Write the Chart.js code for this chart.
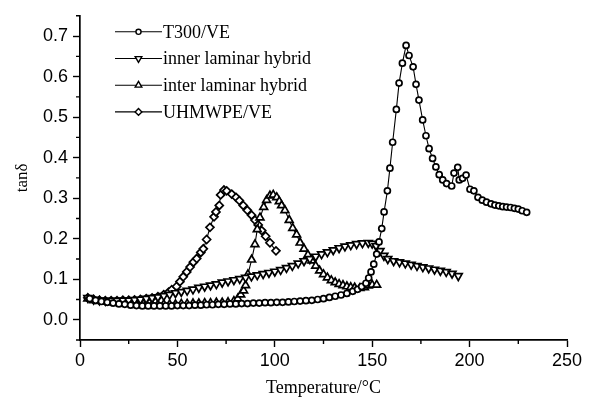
<!DOCTYPE html>
<html>
<head>
<meta charset="utf-8">
<script src="https://cdn.jsdelivr.net/npm/chart.js@4/dist/chart.umd.min.js"></script>
<style>
  html, body { margin: 0; padding: 0; background: #fff; }
  #wrap { width: 593px; height: 400px; }
</style>
</head>
<body>
<div id="wrap"><canvas id="chart" width="593" height="400"></canvas></div>
<script>
// tick positions
const xMajor = [0, 50, 100, 150, 200, 250];
const xMinor = [25, 75, 125, 175, 225];
const yMajor = [0, 0.1, 0.2, 0.3, 0.4, 0.5, 0.6, 0.7];
const yMinor = [-0.05, 0.05, 0.15, 0.25, 0.35, 0.45, 0.55, 0.65, 0.75];

const seriesNames = ['T300/VE', 'inner laminar hybrid', 'inter laminar hybrid', 'UHMWPE/VE'];

// T300/VE
const t300Temp = [5, 8, 11, 14, 17, 20, 23, 26, 29, 32, 35, 38, 41, 44, 47, 50, 53, 56, 59, 62, 65, 68, 71, 74, 77, 80,
  83, 86, 89, 92, 95, 98, 101, 104, 107, 110, 113, 116, 119, 122, 125, 128, 131, 134, 137, 140, 142.5, 144.6, 146.8,
  148.2, 149.4, 150.8, 152.3, 153.5, 154.9, 156.1, 157.8, 159.1, 160.5, 162.4, 163.8, 165.5, 167.4, 168.9, 171, 172.5,
  174, 175.9, 177.6, 179.2, 181, 182.7, 184.4, 186.2, 188.2, 190.8, 192, 193.9, 194.7, 196.4, 198.2, 200.2, 202.2,
  204.3, 206.5, 208.7, 211, 213, 215, 217, 219, 221, 223, 225, 227, 229.3];
const t300Tan = [0.052, 0.048, 0.045, 0.043, 0.041, 0.039, 0.038, 0.036, 0.035, 0.034, 0.034, 0.034, 0.034, 0.034, 0.034,
  0.035, 0.035, 0.035, 0.036, 0.036, 0.037, 0.037, 0.038, 0.038, 0.039, 0.039, 0.04, 0.04, 0.041, 0.041, 0.042, 0.042,
  0.043, 0.043, 0.044, 0.045, 0.046, 0.047, 0.048, 0.05, 0.052, 0.055, 0.058, 0.061, 0.065, 0.07, 0.075, 0.082, 0.09,
  0.103, 0.118, 0.137, 0.162, 0.192, 0.225, 0.266, 0.318, 0.374, 0.438, 0.519, 0.584, 0.633, 0.677, 0.652, 0.624, 0.581,
  0.542, 0.493, 0.454, 0.422, 0.398, 0.377, 0.358, 0.345, 0.336, 0.33, 0.362, 0.376, 0.345, 0.349, 0.357, 0.322, 0.318,
  0.302, 0.295, 0.29, 0.286, 0.283, 0.281, 0.279, 0.278, 0.277, 0.275, 0.273, 0.269, 0.265];

// inner laminar hybrid
const innerTemp = [4, 7, 10, 13, 16, 19, 22, 25, 28, 31, 34, 37, 40, 43, 46, 49, 52, 55, 58, 61, 64, 67, 70, 73, 76, 79,
  82, 85, 88, 91, 94, 97, 100, 103, 106, 109, 112, 115, 118, 121, 124, 127, 130, 133, 136, 139, 142, 145, 148, 150, 152,
  154, 156, 158, 161, 164, 167, 170, 173, 176, 179, 182, 185, 188, 191, 194.2];
const innerTan = [0.054, 0.05, 0.048, 0.047, 0.047, 0.047, 0.048, 0.048, 0.049, 0.05, 0.052, 0.054, 0.056, 0.059, 0.062,
  0.066, 0.069, 0.072, 0.075, 0.079, 0.082, 0.085, 0.088, 0.092, 0.095, 0.098, 0.101, 0.104, 0.107, 0.11, 0.113, 0.116,
  0.119, 0.123, 0.128, 0.133, 0.139, 0.145, 0.15, 0.156, 0.162, 0.167, 0.172, 0.177, 0.181, 0.184, 0.187, 0.189, 0.19,
  0.188, 0.182, 0.17, 0.158, 0.15, 0.145, 0.142, 0.139, 0.136, 0.133, 0.13, 0.127, 0.124, 0.121, 0.118, 0.114, 0.108];

// inter laminar hybrid
const interTemp = [4, 7, 10, 13, 16, 19, 22, 25, 28, 31, 34, 37, 40, 43, 46, 49, 52, 55, 58, 61, 64, 67, 70, 73, 76, 79,
  81, 82.5, 84, 85, 86.2, 88.1, 89.8, 91, 92.4, 94.3, 95.8, 97.5, 99.2, 101, 102.3, 103.5, 105.2, 107.4, 109.2, 111.2,
  113, 115, 117, 119, 121, 123, 125, 127, 129, 131, 133, 135, 137, 139, 141, 143.7, 146, 148, 150, 152.3];
const interTan = [0.052, 0.048, 0.046, 0.044, 0.043, 0.041, 0.04, 0.039, 0.038, 0.037, 0.037, 0.037, 0.037, 0.038, 0.038,
  0.038, 0.039, 0.039, 0.04, 0.04, 0.041, 0.041, 0.042, 0.042, 0.043, 0.046, 0.052, 0.062, 0.072, 0.085, 0.112, 0.148,
  0.186, 0.223, 0.252, 0.278, 0.295, 0.306, 0.308, 0.302, 0.292, 0.282, 0.27, 0.246, 0.226, 0.21, 0.19, 0.175, 0.16,
  0.146, 0.133, 0.121, 0.112, 0.104, 0.097, 0.092, 0.088, 0.085, 0.082, 0.08, 0.079, 0.078, 0.08, 0.084, 0.086, 0.086];

// UHMWPE/VE
const uhmTemp = [4, 7, 10, 13, 16, 19, 22, 25, 28, 31, 34, 37, 40, 43, 45.5, 47.1, 49.6, 51.3, 53, 54.8, 56.5, 58.2, 59.9,
  62, 63.3, 65, 66.7, 68.8, 69.8, 71.5, 72.2, 73.9, 75.3, 77.9, 80.1, 81.8, 83.8, 85.9, 88.1, 89.8, 91.5, 93.3, 95.3,
  97.5, 100.6];
const uhmTan = [0.054, 0.05, 0.048, 0.047, 0.047, 0.047, 0.048, 0.048, 0.049, 0.05, 0.052, 0.054, 0.057, 0.062, 0.068,
  0.074, 0.082, 0.094, 0.106, 0.118, 0.13, 0.142, 0.151, 0.166, 0.175, 0.198, 0.228, 0.254, 0.266, 0.282, 0.308, 0.32,
  0.318, 0.31, 0.302, 0.294, 0.282, 0.27, 0.258, 0.246, 0.234, 0.22, 0.206, 0.19, 0.17];

const toPoints = (xs, ys) => xs.map((x, i) => ({ x, y: ys[i] }));

const serif = '"Times New Roman", "Liberation Serif", serif';
const sans = 'Arial, "Liberation Sans", sans-serif';
const ink = '#000';

function makeSet(label, xs, ys, style, radius, rotation) {
  return {
    label,
    data: toPoints(xs, ys),
    showLine: true,
    borderColor: ink,
    borderWidth: 1.1,
    backgroundColor: '#fff',
    pointStyle: style,
    pointRotation: rotation || 0,
    pointRadius: radius,
    pointBorderWidth: 1.7,
    pointBorderColor: ink,
    pointBackgroundColor: '#fff',
    tension: 0
  };
}

const datasets = [
  makeSet(seriesNames[0], t300Temp, t300Tan, 'circle', 3),
  makeSet(seriesNames[1], innerTemp, innerTan, 'triangle', 4.5, 180),
  makeSet(seriesNames[2], interTemp, interTan, 'triangle', 4.5),
  makeSet(seriesNames[3], uhmTemp, uhmTan, 'rectRot', 4)
];

// short outer ticks between the labelled ones
const minorTicks = {
  id: 'minorTicks',
  afterDraw(chart) {
    const { ctx, scales: { x, y } } = chart;
    ctx.save();
    ctx.strokeStyle = ink;
    ctx.lineWidth = 1.4;
    ctx.beginPath();
    xMinor.forEach(v => {
      const px = x.getPixelForValue(v);
      ctx.moveTo(px, x.top);
      ctx.lineTo(px, x.top + 4);
    });
    yMinor.forEach(v => {
      const py = y.getPixelForValue(v);
      ctx.moveTo(y.right, py);
      ctx.lineTo(y.right - 4, py);
    });
    ctx.stroke();
    ctx.restore();
  }
};

// legend with line-marker-line symbols inside the plot
const lineLegend = {
  id: 'lineLegend',
  afterDraw(chart) {
    const { ctx, chartArea } = chart;
    const x0 = chartArea.left + 35;
    const symW = 47;
    ctx.save();
    ctx.font = '18px ' + serif;
    ctx.textBaseline = 'middle';
    chart.data.datasets.forEach((ds, i) => {
      const cy = chartArea.top + 16 + i * 26.7;
      ctx.strokeStyle = ink;
      ctx.lineWidth = 1.1;
      ctx.beginPath();
      ctx.moveTo(x0, cy);
      ctx.lineTo(x0 + symW, cy);
      ctx.stroke();
      ctx.fillStyle = '#fff';
      ctx.lineWidth = 1.4;
      Chart.helpers.drawPoint(ctx, {
        pointStyle: ds.pointStyle,
        rotation: ds.pointRotation,
        radius: ds.pointRadius * 0.85,
        borderWidth: 1.4
      }, x0 + symW / 2, cy);
      ctx.fillStyle = ink;
      ctx.fillText(ds.label, x0 + symW + 1, cy + 1);
    });
    ctx.restore();
  }
};

new Chart(document.getElementById('chart'), {
  type: 'scatter',
  data: { datasets },
  options: {
    responsive: false,
    animation: false,
    layout: { padding: { left: 0, top: 6, right: 26, bottom: 0 } },
    plugins: {
      legend: { display: false },
      tooltip: { enabled: false }
    },
    scales: {
      x: {
        type: 'linear',
        min: 0,
        max: 250,
        afterBuildTicks: s => { s.ticks = xMajor.map(v => ({ value: v })); },
        afterFit: s => { s.height = 60; },
        border: { color: ink, width: 1.7 },
        grid: { drawOnChartArea: false, tickLength: 7, color: ink, tickWidth: 1.4 },
        ticks: { color: ink, font: { family: sans, size: 18 }, padding: 3, maxRotation: 0 },
        title: {
          display: true,
          text: 'Temperature/\u00B0C',
          color: ink,
          font: { family: serif, size: 18 },
          padding: { top: 0, bottom: 1 }
        }
      },
      y: {
        type: 'linear',
        min: -0.05,
        max: 0.75,
        afterBuildTicks: s => { s.ticks = yMajor.map(v => ({ value: v })); },
        afterFit: s => { s.width = 80; },
        border: { color: ink, width: 1.7 },
        grid: { drawOnChartArea: false, tickLength: 7, color: ink, tickWidth: 1.4 },
        ticks: {
          color: ink,
          font: { family: sans, size: 18 },
          padding: 5,
          callback: v => v.toFixed(1)
        },
        title: {
          display: true,
          text: 'tan\u03B4',
          color: ink,
          font: { family: serif, size: 17 },
          padding: { top: 12, bottom: 0 }
        }
      }
    }
  },
  plugins: [minorTicks, lineLegend]
});
</script>
</body>
</html>
